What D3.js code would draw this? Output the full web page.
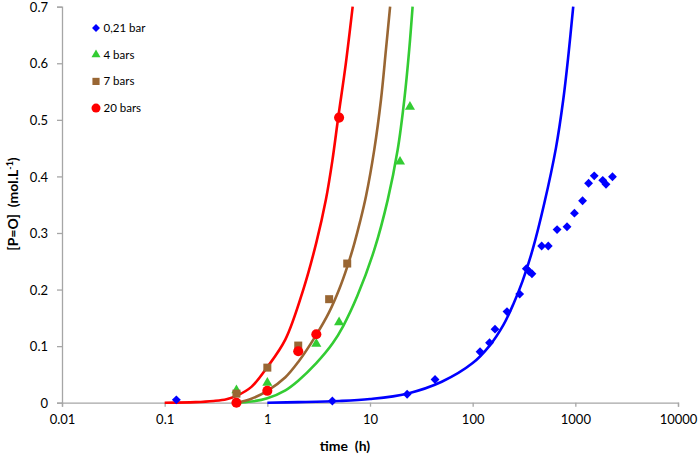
<!DOCTYPE html>
<html>
<head>
<meta charset="utf-8">
<script src="https://cdn.jsdelivr.net/npm/d3@7"></script>
<style>
  body { margin: 0; background: #fff; }
  svg { font-family: Lato, "Open Sans", sans-serif; }
</style>
</head>
<body>
<script>
/* Measured points (time in h, [P=O] in mol/L) */
var bar021T = [0.13, 4.3, 23, 43, 118, 146, 165, 216, 287, 333, 355, 378, 470, 545, 664, 830,
               980, 1176, 1346, 1528, 1850, 1990, 2300];
var bar021Y = [0.005, 0.003, 0.015, 0.041, 0.090, 0.106, 0.130, 0.161, 0.192, 0.237, 0.232, 0.228,
               0.277, 0.277, 0.306, 0.311, 0.335, 0.357, 0.388, 0.401, 0.393, 0.386, 0.3995];
var bar4T = [0.5, 1, 3, 5, 19.6, 24.5];
var bar4Y = [0.022, 0.035, 0.104, 0.142, 0.426, 0.523];
var bar7T = [0.5, 1, 2, 4, 6];
var bar7Y = [0.016, 0.062, 0.101, 0.183, 0.246];
var bar20T = [0.5, 1, 2, 3, 5];
var bar20Y = [0.0, 0.021, 0.091, 0.121, 0.504];

/* Model curves */
var fit021T = [1, 2, 5, 10, 23, 50, 100, 145, 200, 250, 306, 383, 498, 647, 762, 860, 954];
var fit021Y = [0, 0.001, 0.003, 0.0065, 0.016, 0.037, 0.07, 0.1, 0.138, 0.175, 0.215, 0.27,
               0.352, 0.45, 0.535, 0.618, 0.7];
var fit4T = [0.5, 0.7, 1, 1.5, 2, 3, 4.33, 5.5, 7.5, 11, 14.9, 18.6, 21.6, 24.1, 26.0];
var fit4Y = [0, 0.002, 0.008, 0.022, 0.039, 0.07, 0.105, 0.136, 0.188, 0.27, 0.359, 0.447, 0.536,
             0.624, 0.7];
var fit7T = [0.5, 0.7, 1, 1.5, 2, 3, 4, 5, 6, 7, 8, 9.14, 11.0, 12.8, 14.3, 15.7];
var fit7Y = [0, 0.007, 0.021, 0.045, 0.072, 0.12, 0.16, 0.2, 0.24, 0.28, 0.32, 0.365, 0.447,
             0.536, 0.624, 0.7];
var fit20T = [0.1, 0.2, 0.3, 0.4, 0.5, 0.7, 1, 1.5, 2.24, 3, 3.72, 4.3, 4.91, 5.8, 6.78];
var fit20Y = [0, 0.001, 0.003, 0.006, 0.012, 0.028, 0.063, 0.112, 0.2, 0.283, 0.359, 0.428, 0.505,
              0.598, 0.7];

var xTicks = [0.01, 0.1, 1, 10, 100, 1000, 10000];
var xTickLabels = ['0.01', '0.1', '1', '10', '100', '1000', '10000'];
var yTicks = [0, 0.1, 0.2, 0.3, 0.4, 0.5, 0.6, 0.7];
var yTickLabels = ['0', '0.1', '0.2', '0.3', '0.4', '0.5', '0.6', '0.7'];

var seriesNames = ['0,21 bar', '4 bars', '7 bars', '20 bars'];
var seriesColors = ['#0000ff', '#33cc33', '#996633', '#ff0000'];
var seriesShapes = [d3.symbolDiamond2, d3.symbolTriangle, d3.symbolSquare, d3.symbolCircle];
var seriesSizes = [50, 44, 64, 80];

function zip(xs, ys) {
    return xs.map(function (t, i) { return [t, ys[i]]; });
}

var points = [zip(bar021T, bar021Y), zip(bar4T, bar4Y), zip(bar7T, bar7Y), zip(bar20T, bar20Y)];
var fits = [zip(fit021T, fit021Y), zip(fit4T, fit4Y), zip(fit7T, fit7Y), zip(fit20T, fit20Y)];

var width = 699, height = 456;
var x = d3.scaleLog().domain([0.01, 10000]).range([62, 678]);
var y = d3.scaleLinear().domain([0, 0.7]).range([402.7, 6.7]);

var svg = d3.select('body').append('svg')
    .attr('width', width)
    .attr('height', height);

svg.append('defs').append('clipPath').attr('id', 'plot')
    .append('rect')
    .attr('x', 62).attr('y', 5)
    .attr('width', 620).attr('height', 400);

/* Axes */
var axisColor = '#a6a6a6';
var xAxis = svg.append('g')
    .attr('transform', 'translate(0,' + y(0) + ')')
    .call(d3.axisBottom(x).tickValues(xTicks).tickSize(4).tickPadding(8)
          .tickFormat(function (d, i) { return xTickLabels[i]; }));
var yAxis = svg.append('g')
    .attr('transform', 'translate(' + x(0.01) + ',0)')
    .call(d3.axisLeft(y).tickValues(yTicks).tickSize(5).tickPadding(9)
          .tickFormat(function (d, i) { return yTickLabels[i]; }));

[xAxis, yAxis].forEach(function (a) {
    a.select('.domain').attr('stroke', axisColor).attr('stroke-width', 1.3);
    a.selectAll('.tick line').attr('stroke', axisColor).attr('stroke-width', 1.3);
    a.selectAll('.tick text')
        .attr('fill', '#000')
        .style('font-size', '13px')
        .style('font-family', 'Lato, "Open Sans", sans-serif');
});
yAxis.selectAll('.tick text').attr('dy', '0.36em');

/* Fitted curves */
var line = d3.line()
    .x(function (d) { return x(d[0]); })
    .y(function (d) { return y(d[1]); })
    .curve(d3.curveCatmullRom.alpha(0.5));

svg.append('g').attr('clip-path', 'url(#plot)')
    .selectAll('path')
    .data(fits)
    .enter()
    .append('path')
    .attr('d', line)
    .attr('fill', 'none')
    .attr('stroke', function (d, i) { return seriesColors[i]; })
    .attr('stroke-width', 2.6);

/* Markers */
points.forEach(function (pts, i) {
    svg.append('g').selectAll('path')
        .data(pts)
        .enter()
        .append('path')
        .attr('d', d3.symbol().type(seriesShapes[i]).size(seriesSizes[i]))
        .attr('transform', function (d) {
            return 'translate(' + x(d[0]) + ',' + y(d[1]) + ')';
        })
        .attr('fill', seriesColors[i]);
});

/* Legend */
var legend = svg.append('g');
seriesNames.forEach(function (name, i) {
    var ly = 28 + i * 26.7;
    legend.append('path')
        .attr('d', d3.symbol().type(seriesShapes[i]).size(seriesSizes[i] * 0.8))
        .attr('transform', 'translate(96,' + ly + ')')
        .attr('fill', seriesColors[i]);
    legend.append('text')
        .attr('x', 103.5)
        .attr('y', ly + 4)
        .style('font-size', '11.5px')
        .text(name);
});

/* Axis titles */
svg.append('text')
    .attr('x', 345)
    .attr('y', 451)
    .attr('text-anchor', 'middle')
    .style('font-size', '14px')
    .style('font-weight', 'bold')
    .style('white-space', 'pre')
    .text('time  (h)');

var yTitle = svg.append('text')
    .attr('transform', 'translate(18,204) rotate(-90)')
    .attr('text-anchor', 'middle')
    .style('font-size', '14px')
    .style('font-weight', 'bold')
    .style('white-space', 'pre');
yTitle.append('tspan').text('[P=O]  (mol.L');
yTitle.append('tspan').attr('dy', -5).style('font-size', '9px').text('-1');
yTitle.append('tspan').attr('dy', 5).text(')');
</script>
</body>
</html>
